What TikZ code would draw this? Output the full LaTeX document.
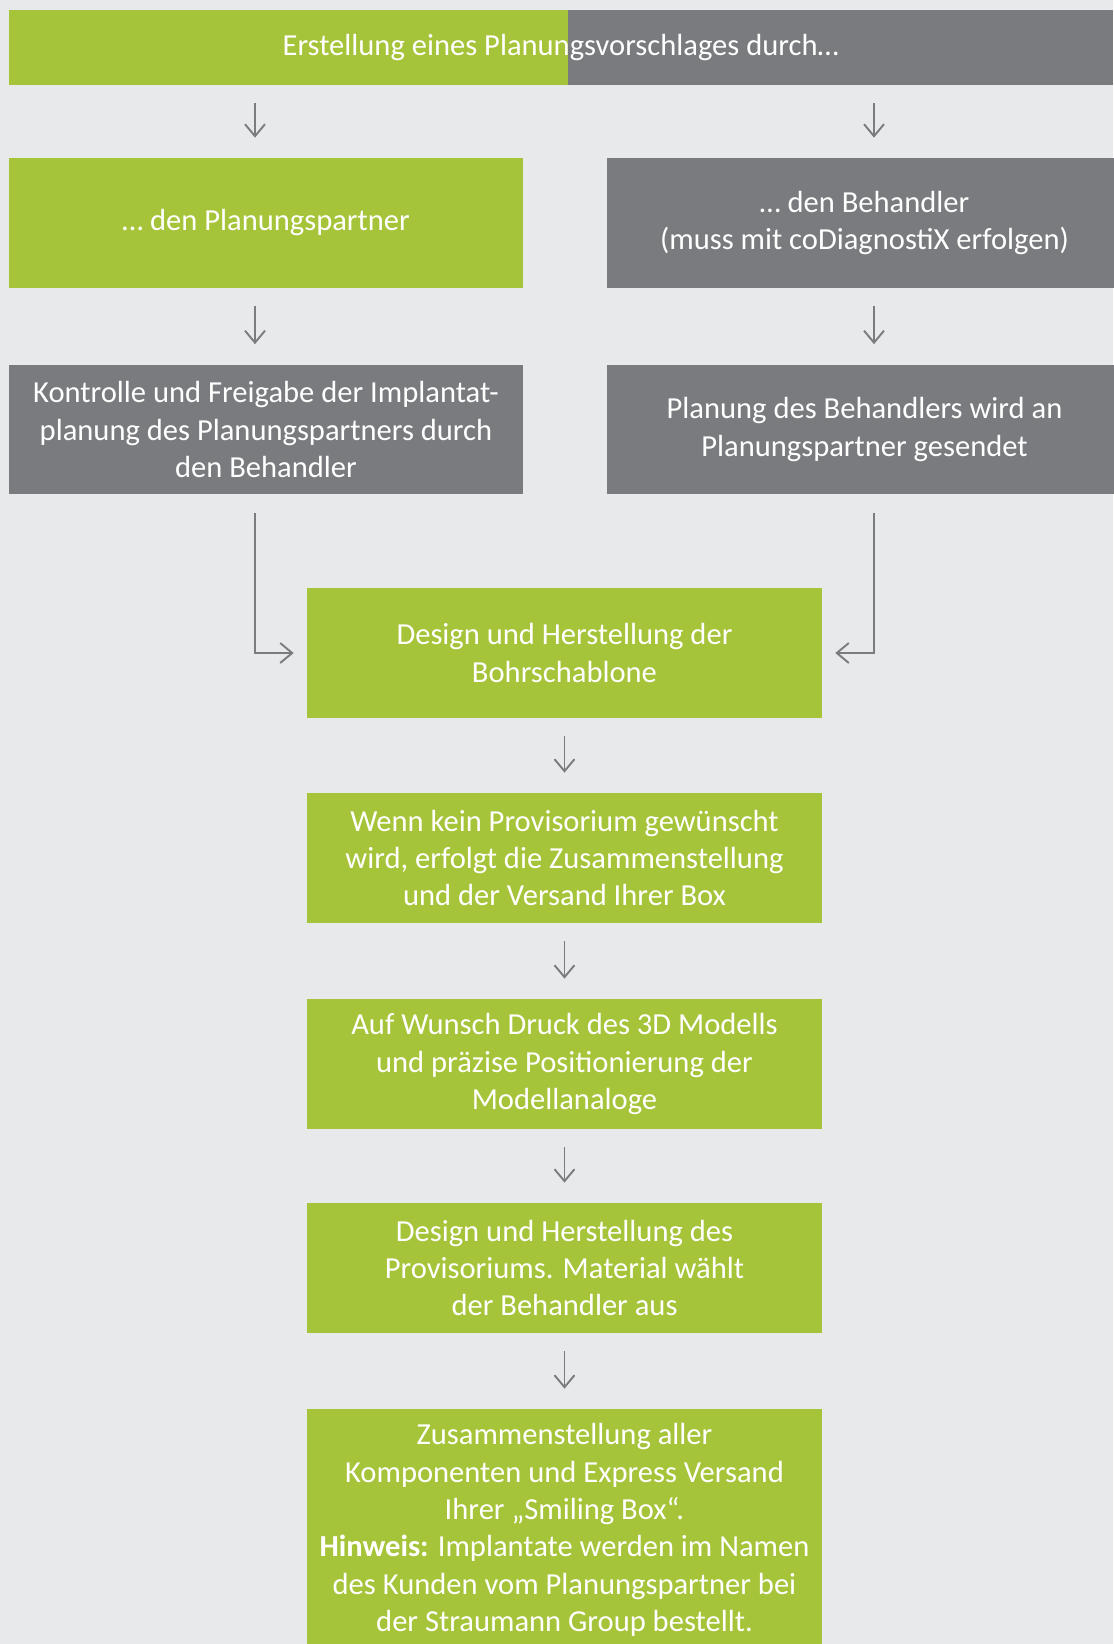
\documentclass[tikz,border=0pt]{standalone}
\usepackage{fontspec}
\setmainfont{Carlito}
\usetikzlibrary{arrows.meta}
\definecolor{pgreen}{HTML}{A6C439}
\definecolor{pgray}{HTML}{797B7E}
\definecolor{pbg}{HTML}{E8E9EB}
\definecolor{pline}{HTML}{7A7D80}
\tikzset{box/.style={minimum width=10.3cm,minimum height=2.6cm,inner sep=0pt,align=center,text=white,font=\fontsize{17.4}{21.3}\selectfont},
         gbox/.style={box,fill=pgreen},
         ybox/.style={box,fill=pgray},
         flow/.style={draw=pline,line width=1.1pt,-{Straight Barb[length=2.4mm,width=4mm]},shorten <=0.36cm,shorten >=0.4cm},
        }

\begin{document}
\begin{tikzpicture}[x=0.02cm,y=-0.02cm]
        \fill[pbg](0,0)rectangle(1113,1644);
        \useasboundingbox(0,0)rectangle(1113,1644);
        \coordinate(la)at(255,0);
        \coordinate(ra)at(874,0);

        \node[ybox,minimum width=22.09cm,minimum height=1.49cm,
              path picture={\fill[pgreen](path picture bounding box.south west)rectangle([xshift=11.19cm]path picture bounding box.north west);}]
              (top)at(560.7,47.5){Erstellung eines Planungsvorschlages durch…};
        \node[gbox](pp)at(266,223){… den Planungspartner};
        \node[ybox](beh)at(864.5,223){… den Behandler\\(muss mit coDiagnostiX erfolgen)};
        \node[ybox](ktr)at(266,429.5){Kontrolle und Freigabe der Implantat-\\planung des Planungspartners durch\\den Behandler};
        \node[ybox](plan)at(864.5,429.5){Planung des Behandlers wird an\\Planungspartner gesendet};
        \node[gbox](design)at(564.5,653){Design und Herstellung der\\Bohrschablone};
        \node[gbox](wenn)at(564.5,858){Wenn kein Provisorium gewünscht\\wird, erfolgt die Zusammenstellung\\und der Versand Ihrer Box};
        \node[gbox](druck)at(564.5,1064){Auf Wunsch Druck des 3D Modells\\und präzise Positionierung der\\Modellanaloge};
        \node[gbox](prov)at(564.5,1268){Design und Herstellung des\\Provisoriums. Material wählt\\der Behandler aus};
        \node[gbox,minimum height=4.84cm](zus)at(564.5,1530){Zusammenstellung aller\\Komponenten und Express Versand\\Ihrer „Smiling Box“.\\\textbf{Hinweis:} Implantate werden im Namen\\des Kunden vom Planungspartner bei\\der Straumann Group bestellt.};

        \draw[flow](top.south -| la)--(pp.north -| la);
        \draw[flow](top.south -| ra)--(beh.north -| ra);
        \draw[flow](pp.south -| la)--(ktr.north -| la);
        \draw[flow](beh.south -| ra)--(plan.north -| ra);
        \draw[flow,shorten >=0.26cm](ktr.south -| la)|-(design.west);
        \draw[flow,shorten >=0.26cm](plan.south -| ra)|-(design.east);
        \draw[flow](design)--(wenn);
        \draw[flow](wenn)--(druck);
        \draw[flow](druck)--(prov);
        \draw[flow](prov)--(zus);
\end{tikzpicture}
\end{document}
